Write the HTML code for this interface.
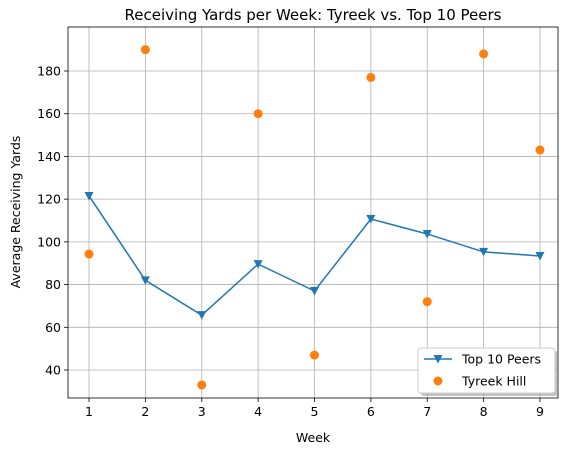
<!DOCTYPE html>
<html><head><meta charset="utf-8"><style>
body{margin:0;background:#fff;overflow:hidden}
svg{font-family:"DejaVu Sans","Liberation Sans",sans-serif;display:block}
</style></head><body>
<svg id="chart" width="571" height="455" xmlns="http://www.w3.org/2000/svg"></svg>
<script>
const weeks=[1,2,3,4,5,6,7,8,9];
const peers=[121.5,82,65.7,89.6,77,110.7,103.7,95.3,93.4];
const tyreek=[94.3,190,33,160,47,177,72,188,143];
const yTicks=[40,60,80,100,120,140,160,180];
const L=68,R=558,T=27,B=398;
const xMin=0.627,xMax=9.32,yMin=26.9,yMax=200.6;
const X=v=>L+(v-xMin)/(xMax-xMin)*(R-L);
const Y=v=>B-(v-yMin)/(yMax-yMin)*(B-T);
const svg=document.getElementById('chart');
const NS='http://www.w3.org/2000/svg';
function mk(t,a,p){const e=document.createElementNS(NS,t);for(const k in a)e.setAttribute(k,a[k]);(p||svg).appendChild(e);return e;}
const grid=mk('g',{});


weeks.forEach(w=>{mk('line',{x1:X(w),x2:X(w),y1:T,y2:B,stroke:'#b0b0b0','stroke-width':0.8},grid);
 mk('line',{x1:X(w),x2:X(w),y1:B,y2:B+4,stroke:'#000','stroke-width':0.8},grid);
 const t=mk('text',{x:X(w),y:B+18,'font-size':12.5,'text-anchor':'middle'});t.textContent=w;
 });
yTicks.forEach(v=>{mk('line',{x1:L,x2:R,y1:Y(v),y2:Y(v),stroke:'#b0b0b0','stroke-width':0.8},grid);
 mk('line',{x1:L-4,x2:L,y1:Y(v),y2:Y(v),stroke:'#000','stroke-width':0.8},grid);
 const t=mk('text',{x:L-7,y:Y(v)+4.5,'font-size':12.5,'text-anchor':'end'});t.textContent=v;
 });
const line=mk('polyline',{points:weeks.map((w,i)=>X(w)+','+Y(peers[i])).join(' '),fill:'none',stroke:'#1f77b4','stroke-width':1.5});


weeks.forEach((w,i)=>{const x=X(w),y=Y(peers[i]);
 const m=mk('polygon',{points:`${x-4.5},${y-4} ${x+4.5},${y-4} ${x},${y+4.5}`,fill:'#1f77b4'});
 });
weeks.forEach((w,i)=>{const c=mk('circle',{cx:X(w),cy:Y(tyreek[i]),r:4.5,fill:'#ff7f0e'});
 });
const fr=mk('rect',{x:L,y:T,width:R-L,height:B-T,fill:'none',stroke:'#000','stroke-width':0.8});


let e=mk('text',{x:313,y:20,'font-size':15,'text-anchor':'middle'});e.textContent='Receiving Yards per Week: Tyreek vs. Top 10 Peers';

e=mk('text',{x:313,y:442,'font-size':12.5,'text-anchor':'middle'});e.textContent='Week';

e=mk('text',{x:20,y:212,'font-size':12.5,'text-anchor':'middle',transform:'rotate(-90 20 212)'});e.textContent='Average Receiving Yards';

mk('rect',{x:421,y:351,width:137,height:45,rx:3,fill:'#888',opacity:0.5});
e=mk('rect',{x:418,y:348,width:137,height:45,rx:3,fill:'#fff',stroke:'#ccc'});

mk('line',{x1:424,x2:452,y1:359,y2:359,stroke:'#1f77b4','stroke-width':1.5});
mk('polygon',{points:'433.5,355 442.5,355 438,363.5',fill:'#1f77b4'});
e=mk('text',{x:462,y:363.5,'font-size':12.5});e.textContent='Top 10 Peers';

mk('circle',{cx:438,cy:381,r:4.5,fill:'#ff7f0e'});
e=mk('text',{x:462,y:385.5,'font-size':12.5});e.textContent='Tyreek Hill';

</script>
</body></html>
